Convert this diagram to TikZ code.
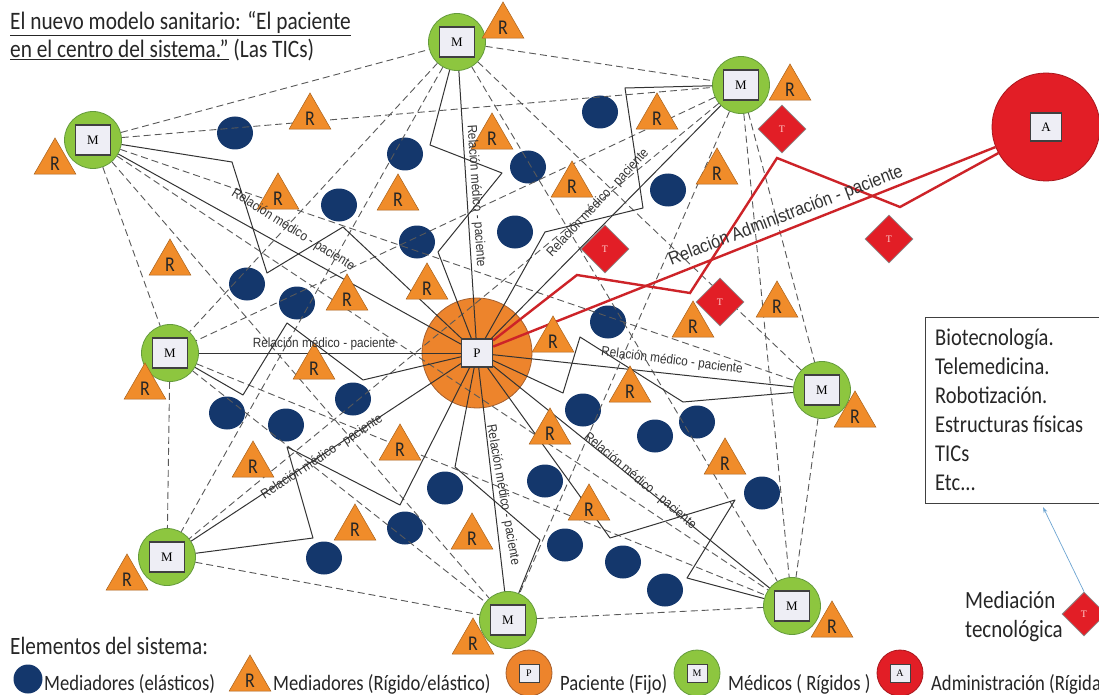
\documentclass[tikz,border=0pt]{standalone}
\usepackage{fontspec}
\usetikzlibrary{shapes.geometric,arrows.meta}
\newfontfamily\calfont[FakeStretch=0.85]{Carlito}
\newfontfamily\arfont[FakeStretch=0.88]{Liberation Sans}
\newfontfamily\tmfont{Liberation Serif}
\definecolor{mgreen}{RGB}{141,198,63}
\definecolor{mgreenD}{RGB}{100,155,60}
\definecolor{porange}{RGB}{237,132,44}
\definecolor{porangeD}{RGB}{165,95,45}
\definecolor{navy}{RGB}{20,55,108}
\definecolor{rorange}{RGB}{240,140,42}
\definecolor{ared}{RGB}{226,30,38}
\definecolor{redline}{RGB}{205,35,40}
\definecolor{sqfill}{RGB}{238,238,245}
\definecolor{arrowblue}{RGB}{110,165,210}
\begin{document}
\begin{tikzpicture}[x=1pt,y=-1pt,
  mnode/.style={circle,fill=mgreen,draw=mgreenD,line width=0.8pt,minimum size=57pt,inner sep=0pt},
  pnode/.style={circle,fill=porange,draw=porangeD,line width=0.8pt,minimum size=110pt,inner sep=0pt},
  anode/.style={circle,fill=ared,draw=ared!75!black,line width=0.8pt,minimum size=108pt,inner sep=0pt},
  letterbox/.style={rectangle,fill=sqfill,draw=black!75,line width=1.3pt,inner sep=0pt,
    font=\tmfont\fontsize{13}{13}\selectfont},
  msq/.style={letterbox,minimum width=35pt,minimum height=30pt},
  psq/.style={letterbox,minimum width=31pt,minimum height=28pt},
  smallsq/.style={letterbox,line width=1pt,minimum width=20pt,minimum height=18pt,
    font=\tmfont\fontsize{10}{10}\selectfont},
  blob/.style={ellipse,fill=navy,minimum width=36pt,minimum height=33pt,inner sep=0pt},
  rtri/.style={regular polygon,regular polygon sides=3,fill=rorange,draw=rorange!70!black,
    line width=0.5pt,minimum size=40pt,inner sep=0pt,text height=17pt,text depth=0pt,
    font=\calfont\fontsize{21}{21}\selectfont,text=black!85},
  tdiam/.style={diamond,fill=ared,draw=black!45,line width=0.8pt,minimum width=48pt,
    minimum height=48pt,inner sep=0pt,font=\tmfont\fontsize{10}{10}\selectfont,text=white!80!red},
  dline/.style={draw=black!65,line width=0.9pt,dash pattern=on 7pt off 4pt},
  rel/.style={draw=black!80,line width=1pt,line join=round},
  redrel/.style={draw=redline,line width=2.4pt,line join=miter},
  lab/.style={font=\arfont\fontsize{13.4}{13.4}\selectfont,text=black!80,inner sep=0pt},
  ttl/.style={font=\calfont\fontsize{25.1}{29}\selectfont,text=black!85,inner sep=0pt,anchor=base west},
  boxtxt/.style={font=\calfont\fontsize{24.1}{29}\selectfont,text=black!85,inner sep=0pt,anchor=base west},
  legtxt/.style={font=\calfont\fontsize{21.9}{25}\selectfont,text=black!85,inner sep=0pt,anchor=base west}
]
\useasboundingbox (0,0) rectangle (1099,695);
\fill[white] (0,0) rectangle (1099,695);

% patient in the centre
\node[pnode] (P) at (477,353) {};
\node[psq] (Psq) at (P) {P};

% elastic mediators
\foreach \x/\y [count=\i] in {235/133,600/112,405/154,528/167,668/190,339/205,515/232,417/242,
  247/284,297/303,608/322,353/399,227/413,286/425,583/410,655/436,697/422,445/488,545/481,
  762/493,405/528,324/558,565/545,623/562,665/590}
  \node[blob] (b\i) at (\x,\y) {};

% doctors
\foreach \n/\x/\y in {M1/93/140,M2/457/42,M3/741/85,M4/170/353,M5/822/390,M6/167/557,M7/508/620,M8/792/606}{
  \node[mnode] (\n) at (\x,\y) {};
  \node[msq] at (\n) {M};
}

% administration
\node[anode] (A) at (1046,127) {};
\node[psq] at (A) {A};

% links between doctors
\foreach \a/\b in {M1/M2,M1/M3,M1/M4,M1/M5,M1/M7,M1/M8,M2/M3,M2/M4,M2/M5,M2/M6,M2/M8,
  M3/M4,M3/M5,M3/M6,M3/M7,M3/M8,M4/M6,M4/M7,M4/M8,M5/M8,M6/M7,M7/M8}
  \draw[dline] (\a) -- (\b);

% doctor - patient relations
\foreach \m in {M1,M2,M3,M4,M5,M6,M7,M8}
  \draw[rel] (\m) -- (Psq);
\draw[rel] (M1) -- (232,162) -- (267,273) -- (343,227) -- (Psq);
\draw[rel] (M2) -- (430,145) -- (502,173) -- (438,252) -- (Psq);
\draw[rel] (M3) -- (625,88) -- (643,208) -- (545,232) -- (Psq);
\draw[rel] (M4) -- (243,395) -- (287,323) -- (363,380) -- (Psq);
\draw[rel] (M5) -- (683,402) -- (580,337) -- (563,393) -- (Psq);
\draw[rel] (M6) -- (313,538) -- (287,447) -- (400,505) -- (Psq);
\draw[rel] (M7) -- (540,540) -- (455,467) -- (Psq);
\draw[rel] (M8) -- (687,578) -- (735,500) -- (610,538) -- (Psq);

% administration - patient relation
\draw[redrel] (A) -- (900,207) -- (777,158) -- (690,293) -- (577,275) -- (Psq);
\draw[redrel] (A) -- (Psq);

% rigid/elastic mediators
\foreach \x/\y [count=\i] in {503/26,790/88,310/117,657/117,717/172,55/162,278/197,398/198,
  572/185,492/137,170/263,347/298,427/287,553/340,693/325,777/305,145/387,314/367,630/390,
  253/465,400/448,550/432,725/462,855/415,589/508,355/528,472/537,127/578,473/642,832/625}
  \node[rtri] (r\i) at (\x,\y) {R};

% technological mediation
\foreach \x/\y [count=\i] in {782/129,889/239,605/249,720/302}
  \node[tdiam] (t\i) at (\x,\y) {T};

% relation labels
\node[lab,rotate=-32] (l1) at (293,230) {Relación médico - paciente};
\node[lab,rotate=-86] (l2) at (476,196) {Relación médico - paciente};
\node[lab,rotate=47] (l3) at (598,203) {Relación médico - paciente};
\node[lab] (l4) at (324,344) {Relación médico - paciente};
\node[lab,rotate=-7] (l5) at (672,361) {Relación médico - paciente};
\node[lab,rotate=33.5] (l6) at (322,457) {Relación médico - paciente};
\node[lab,rotate=-80] (l7) at (503,495) {Relación médico - paciente};
\node[lab,rotate=-40] (l8) at (640,481) {Relación médico - paciente};
\node[lab,rotate=21,font=\arfont\fontsize{18.4}{18.4}\selectfont] (la) at (786,216)
  {Relación Administración - paciente};

% title
\node[ttl] (t1) at (10,30) {\underline{El nuevo modelo sanitario: “El paciente}};
\node[ttl] (t2) at (10,58) {\underline{en el centro del sistema.”} (Las TICs)};

% technology box
\draw[black!75,line width=1pt] (1099,317) -- (925,317) -- (925,503) -- (1099,503);
\node[boxtxt] (bx1) at (935,345) {Biotecnología.};
\node[boxtxt] (bx2) at (935,374) {Telemedicina.};
\node[boxtxt] (bx3) at (935,403) {Robotización.};
\node[boxtxt] (bx4) at (935,432) {Estructuras físicas};
\node[boxtxt] (bx5) at (935,461) {TICs};
\node[boxtxt] (bx6) at (935,490) {Etc...};
\node[boxtxt,font=\calfont\fontsize{24.7}{29}\selectfont] (med1) at (965,608) {Mediación};
\node[boxtxt,font=\calfont\fontsize{24.7}{29}\selectfont] (med2) at (965,637) {tecnológica};
\node[tdiam,minimum width=44pt,minimum height=44pt] (tleg) at (1084,614) {T};
\coordinate (boxpt) at (1043,507);
\draw[arrowblue,line width=0.7pt,-{Stealth[length=6pt,width=4pt]}] (tleg.north) -- (boxpt);

% legend
\node[legtxt,font=\calfont\fontsize{24.9}{29}\selectfont] (elem) at (10,654) {Elementos del sistema:};
\node[blob,minimum width=29pt,minimum height=29pt] (lb) at (28,679) {};
\node[legtxt] at (44,690) {Mediadores (elásticos)};
\node[rtri] (lr) at (250,679) {R};
\node[legtxt] at (273,690) {Mediadores (Rígido/elástico)};
\node[pnode,minimum size=46pt] (lp) at (529,673) {};
\node[smallsq] at (lp) {P};
\node[legtxt] at (560,690) {Paciente (Fijo)};
\node[mnode,minimum size=46pt] (lm) at (697,673) {};
\node[smallsq] at (lm) {M};
\node[legtxt] at (728,690) {Médicos ( Rígidos )};
\node[anode,minimum size=46pt] (la2) at (900,673) {};
\node[smallsq] at (la2) {A};
\node[legtxt] at (931,690) {Administración (Rígida};
\end{tikzpicture}
\end{document}
